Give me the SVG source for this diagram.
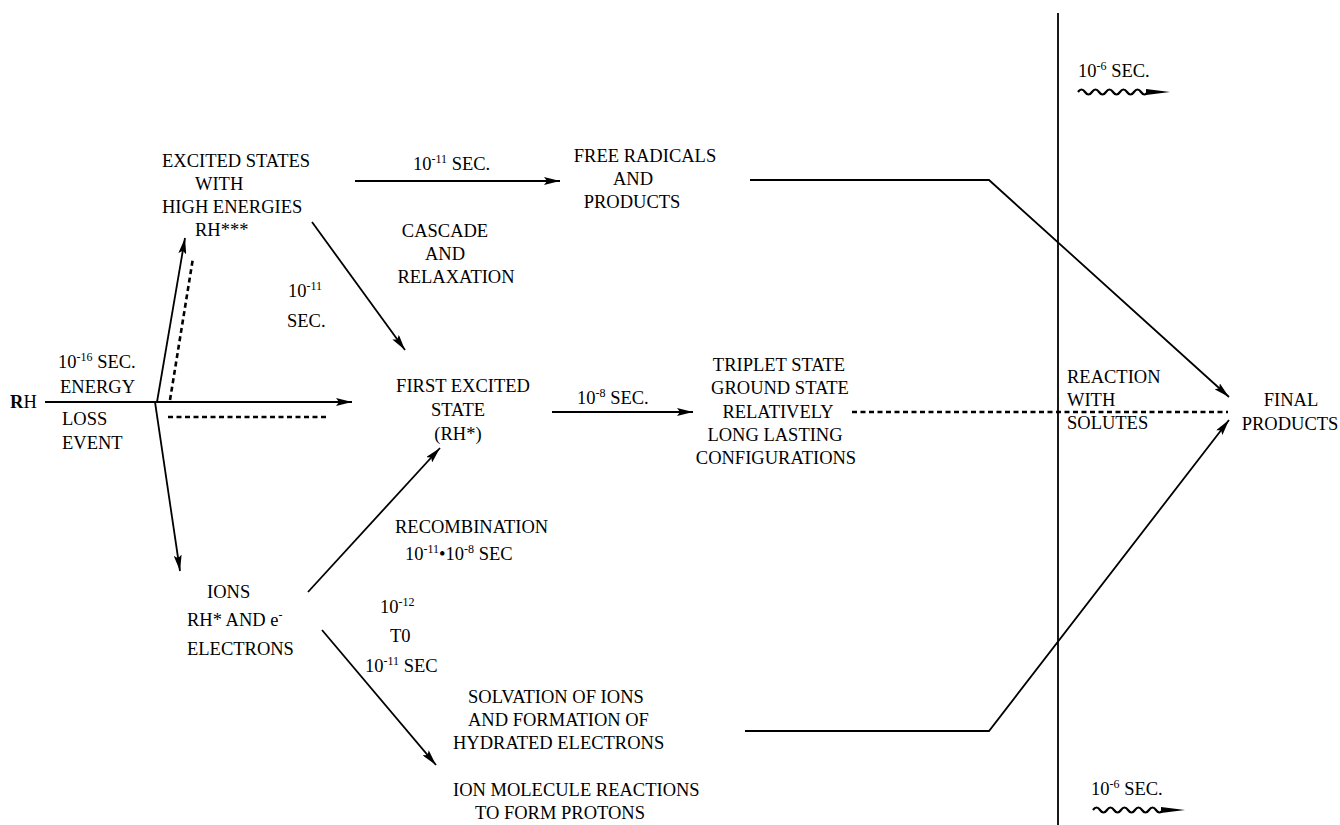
<svg xmlns="http://www.w3.org/2000/svg" width="1340" height="825" viewBox="0 0 1340 825" font-family="'Liberation Serif','DejaVu Serif',serif">
<style>
.t{font-family:"Liberation Serif","DejaVu Serif","Times New Roman",serif;font-size:18.5px;fill:#000}
.s{font-size:12px}
.ln{fill:none;stroke:#000;stroke-width:1.8}
.dash{fill:none;stroke:#000;stroke-width:2.6;stroke-dasharray:5 3.5}
.wave{fill:none;stroke:#000;stroke-width:2.2}
</style>
<defs>
<marker id="ah" viewBox="0 0 16 8" refX="16" refY="4" markerWidth="16" markerHeight="8" markerUnits="userSpaceOnUse" orient="auto">
<path d="M0,0 L16,4 L0,8 L3,4 z" fill="#000"/>
</marker>
</defs>
<rect width="1340" height="825" fill="#fff"/>

<g id="connectors">
<path class="ln" d="M1058,13 V825"/>
<path class="ln" d="M45,402 H352" marker-end="url(#ah)"/>
<path class="dash" d="M168,417 H327" stroke-dasharray="6 5"/>
<path class="ln" d="M157,402 L185,238" marker-end="url(#ah)"/>
<path class="dash" d="M170,400 L193,258" stroke-width="2" stroke-dasharray="8 7"/>
<path class="ln" d="M155,402 L180,571" marker-end="url(#ah)"/>
<path class="ln" d="M355,181 H560" marker-end="url(#ah)"/>
<path class="ln" d="M312,222 L405,350" marker-end="url(#ah)"/>
<path class="ln" d="M552,412 H693" marker-end="url(#ah)"/>
<path class="ln" d="M308,592 L440,448" marker-end="url(#ah)"/>
<path class="ln" d="M322,630 L436,765" marker-end="url(#ah)"/>
<path class="ln" d="M750,180 H989 L1229,397" marker-end="url(#ah)"/>
<path class="ln" d="M745,731 H989 L1229,420" marker-end="url(#ah)"/>
<path class="dash" d="M852,412 H1228"/>
<path class="wave" d="M1078,92 q3.5,-5 7,0 t7,0 t7,0 t7,0 t7,0 t7,0 t7,0 t7,0 t7,0 t7,0"/>
<path d="M1146,89 L1170,92 L1146,95 z" fill="#000"/>
<path class="wave" d="M1093,810 q3.5,-5 7,0 t7,0 t7,0 t7,0 t7,0 t7,0 t7,0 t7,0 t7,0 t7,0"/>
<path d="M1161,807 L1185,810 L1161,813 z" fill="#000"/>
</g>

<g id="rh"><text class="t" x="10" y="408"><tspan font-weight="bold">R</tspan>H</text></g>
<g id="lbl-energy">
<text class="t" x="58" y="368">10<tspan class="s" dy="-7">-16</tspan><tspan dy="7"> SEC.</tspan></text>
<text class="t" x="60" y="393">ENERGY</text>
<text class="t" x="62" y="425">LOSS</text>
<text class="t" x="62" y="449">EVENT</text>
</g>
<g id="excited-high">
<text class="t" x="162" y="167">EXCITED STATES</text>
<text class="t" x="195" y="190">WITH</text>
<text class="t" x="162" y="213">HIGH ENERGIES</text>
<text class="t" x="195" y="236">RH***</text>
</g>
<g id="lbl-11a"><text class="t" x="413" y="170">10<tspan class="s" dy="-7">-11</tspan><tspan dy="7"> SEC.</tspan></text></g>
<g id="free-radicals">
<text class="t" x="645" y="162" text-anchor="middle">FREE RADICALS</text>
<text class="t" x="633" y="185" text-anchor="middle">AND</text>
<text class="t" x="632" y="208" text-anchor="middle">PRODUCTS</text>
</g>
<g id="lbl-cascade">
<text class="t" x="445" y="237" text-anchor="middle">CASCADE</text>
<text class="t" x="445" y="260" text-anchor="middle">AND</text>
<text class="t" x="456" y="283" text-anchor="middle">RELAXATION</text>
</g>
<g id="lbl-11b">
<text class="t" x="288" y="297">10<tspan class="s" dy="-7">-11</tspan></text>
<text class="t" x="287" y="327">SEC.</text>
</g>
<g id="first-excited">
<text class="t" x="463" y="392" text-anchor="middle">FIRST EXCITED</text>
<text class="t" x="458" y="416" text-anchor="middle">STATE</text>
<text class="t" x="458" y="440" text-anchor="middle">(RH*)</text>
</g>
<g id="lbl-8"><text class="t" x="577" y="404">10<tspan class="s" dy="-7">-8</tspan><tspan dy="7"> SEC.</tspan></text></g>
<g id="triplet">
<text class="t" x="779" y="371" text-anchor="middle">TRIPLET STATE</text>
<text class="t" x="780" y="394" text-anchor="middle">GROUND STATE</text>
<text class="t" x="778" y="418" text-anchor="middle">RELATIVELY</text>
<text class="t" x="775" y="441" text-anchor="middle">LONG LASTING</text>
<text class="t" x="776" y="464" text-anchor="middle">CONFIGURATIONS</text>
</g>
<g id="lbl-reaction">
<text class="t" x="1067" y="383">REACTION</text>
<text class="t" x="1067" y="406">WITH</text>
<text class="t" x="1067" y="429">SOLUTES</text>
</g>
<g id="final">
<text class="t" x="1291" y="406" text-anchor="middle">FINAL</text>
<text class="t" x="1290" y="430" text-anchor="middle">PRODUCTS</text>
</g>
<g id="ions">
<text class="t" x="207" y="598">IONS</text>
<text class="t" x="187" y="626">RH* AND e<tspan class="s" dy="-7">-</tspan></text>
<text class="t" x="187" y="655">ELECTRONS</text>
</g>
<g id="lbl-recomb">
<text class="t" x="395" y="533">RECOMBINATION</text>
<text class="t" x="405" y="560">10<tspan class="s" dy="-7">-11</tspan><tspan dy="7">•10</tspan><tspan class="s" dy="-7">-8</tspan><tspan dy="7"> SEC</tspan></text>
</g>
<g id="lbl-12">
<text class="t" x="380" y="613">10<tspan class="s" dy="-7">-12</tspan></text>
<text class="t" x="390" y="642">T0</text>
<text class="t" x="365" y="672">10<tspan class="s" dy="-7">-11</tspan><tspan dy="7"> SEC</tspan></text>
</g>
<g id="solvation">
<text class="t" x="468" y="703">SOLVATION OF IONS</text>
<text class="t" x="468" y="726">AND FORMATION OF</text>
<text class="t" x="453" y="749">HYDRATED ELECTRONS</text>
</g>
<g id="ion-molecule">
<text class="t" x="453" y="796">ION MOLECULE REACTIONS</text>
<text class="t" x="475" y="819">TO FORM PROTONS</text>
</g>
<g id="lbl-6a"><text class="t" x="1078" y="77">10<tspan class="s" dy="-7">-6</tspan><tspan dy="7"> SEC.</tspan></text></g>
<g id="lbl-6b"><text class="t" x="1091" y="795">10<tspan class="s" dy="-7">-6</tspan><tspan dy="7"> SEC.</tspan></text></g>
</svg>
